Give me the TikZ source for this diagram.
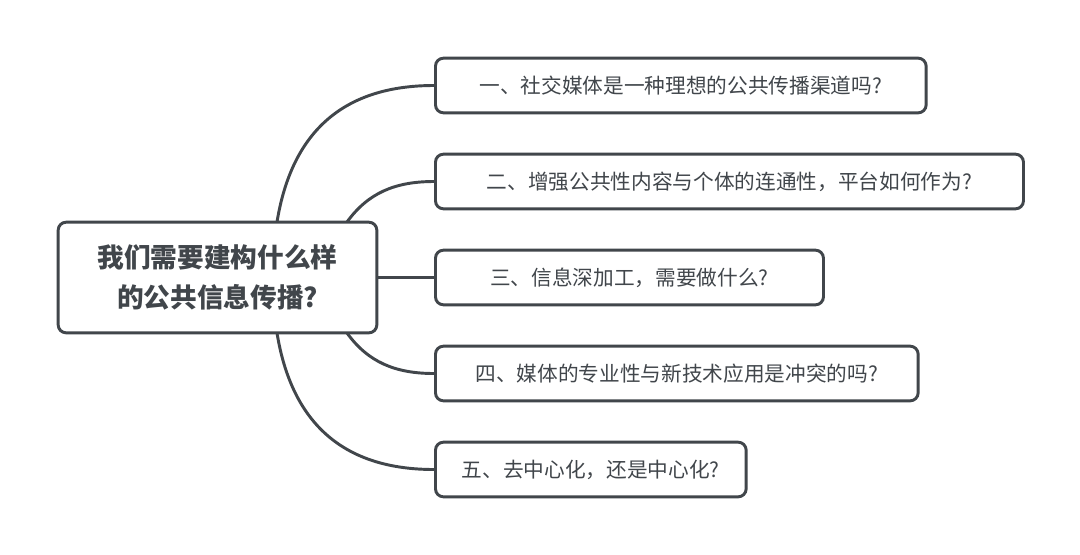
\documentclass[tikz,border=0pt]{standalone}
\usepackage{fontspec}
\setmainfont{Noto Sans CJK SC}
\usepackage{tikz}
\usetikzlibrary{positioning}

\definecolor{inkgray}{HTML}{41464B}

\begin{document}
\begin{tikzpicture}[
  x=0.75pt, y=-0.75pt,
  % --- Box styles ---
  basebox/.style={
    rectangle, rounded corners=6pt, line width=2.2pt,
    draw=inkgray, fill=white, text=inkgray, align=center,
    inner sep=0pt
  },
  rootbox/.style={basebox, minimum width=239pt, minimum height=83pt,
    font=\fontsize{20}{30}\selectfont\bfseries},
  branchbox/.style={basebox, anchor=west, minimum height=41pt,
    font=\fontsize{15.5}{18}\selectfont},
  % --- Connectors ---
  link/.style={line width=2.2pt, draw=inkgray},
]

% background / margins
\fill[white] (0,0) rectangle (1080,554);

% ===================== CONNECTORS =====================
\coordinate (r1) at (277,222);
\coordinate (r2) at (347,222);
\coordinate (r4) at (347,333);
\coordinate (r5) at (277,333);

% ===================== NODES =====================
\node[branchbox, minimum width=368pt] (q1) at (434,85.5)
  {一、社交媒体是一种理想的公共传播渠道吗?};
\node[branchbox, minimum width=441pt] (q2) at (434,181.5)
  {二、增强公共性内容与个体的连通性，平台如何作为?};
\node[branchbox, minimum width=291pt] (q3) at (434,277.5)
  {三、信息深加工，需要做什么?};
\node[branchbox, minimum width=362pt] (q4) at (434,373.5)
  {四、媒体的专业性与新技术应用是冲突的吗?};
\node[branchbox, minimum width=233pt] (q5) at (434,469.5)
  {五、去中心化，还是中心化?};

\draw[link] (r1) .. controls (292,130) and (345,85.5) .. (q1.west);
\draw[link] (r2) .. controls (368,193) and (395,181.5) .. (q2.west);
\draw[link] (q3.west) -- (377,277.5);
\draw[link] (r4) .. controls (368,362) and (395,373.5) .. (q4.west);
\draw[link] (r5) .. controls (292,425) and (345,469.5) .. (q5.west);

\node[rootbox] (root) at (217.5,277.5)
  {我们需要建构什么样\\的公共信息传播?};

\end{tikzpicture}
\end{document}
